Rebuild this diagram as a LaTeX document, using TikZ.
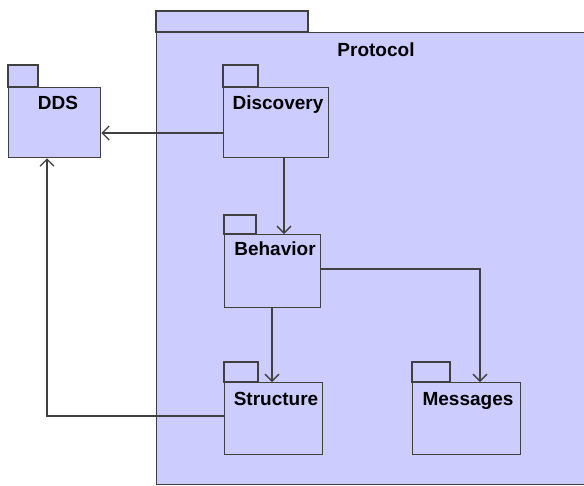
\documentclass[tikz,border=0pt]{standalone}
\usepackage{fontspec}
\setmainfont{Liberation Sans}
\usetikzlibrary{arrows.meta}
\definecolor{pkgfill}{HTML}{CCCCFF}
\definecolor{pkgline}{HTML}{404040}
\begin{document}
\begin{tikzpicture}[x=1pt,y=-1pt,
 pkgbody/.style={draw=pkgline, fill=pkgfill, line width=1.3pt, rectangle, inner sep=0pt, anchor=north west},
 pkgtab/.style={draw=pkgline, fill=pkgfill, line width=1.3pt},
 pkglabel/.style={font=\fontsize{19}{21}\selectfont\bfseries, anchor=base, inner sep=0pt},
 dep/.style={draw=pkgline, line width=1.3pt, -{Straight Barb[length=7pt,width=14pt]}}]
\fill[white] (0,0) rectangle (584,485);
\useasboundingbox (0,0) rectangle (584,485);
\begin{scope}
\clip (0,0) rectangle (584,485);
\draw[pkgtab] (156,11) rectangle (308,32);
\node[pkgbody, minimum width=460pt, minimum height=452pt] (protocol) at (156,32) {};
\end{scope}
\node[pkglabel] (protocolname) at (376,56) {Protocol};
% DDS
\draw[pkgtab] (8,65) rectangle (38,87);
\node[pkgbody, minimum width=92pt, minimum height=70pt] (dds) at (8,87) {};
\node[pkglabel] (ddsname) at (58,109) {DDS};
% Discovery
\draw[pkgtab] (223,65) rectangle (258,87);
\node[pkgbody, minimum width=105pt, minimum height=70pt] (disc) at (223,87) {};
\node[pkglabel] (discname) at (278,109) {Discovery};
% Behavior
\draw[pkgtab] (224,215) rectangle (256,234);
\node[pkgbody, minimum width=96pt, minimum height=73pt] (beh) at (224,234) {};
\node[pkglabel] (behname) at (275,255) {Behavior};
% Structure
\draw[pkgtab] (224,362) rectangle (258,382);
\node[pkgbody, minimum width=98pt, minimum height=72pt] (struct) at (224,382) {};
\node[pkglabel] (structname) at (276,405) {Structure};
% Messages
\draw[pkgtab] (412,362) rectangle (450,382);
\node[pkgbody, minimum width=108pt, minimum height=72pt] (msg) at (412,382) {};
\node[pkglabel] (msgname) at (468,405) {Messages};
% dependencies
\draw[dep] (disc.west |- 0,133) -- (dds.east |- 0,133);
\draw[dep] (disc.south -| 284,0) -- (beh.north -| 284,0);
\draw[dep] (beh.south -| 272,0) -- (struct.north -| 272,0);
\draw[dep] (beh.east |- 0,269) -| (msg.north -| 480,0);
\draw[dep] (struct.west |- 0,416) -| (dds.south -| 47,0);
\end{tikzpicture}
\end{document}
